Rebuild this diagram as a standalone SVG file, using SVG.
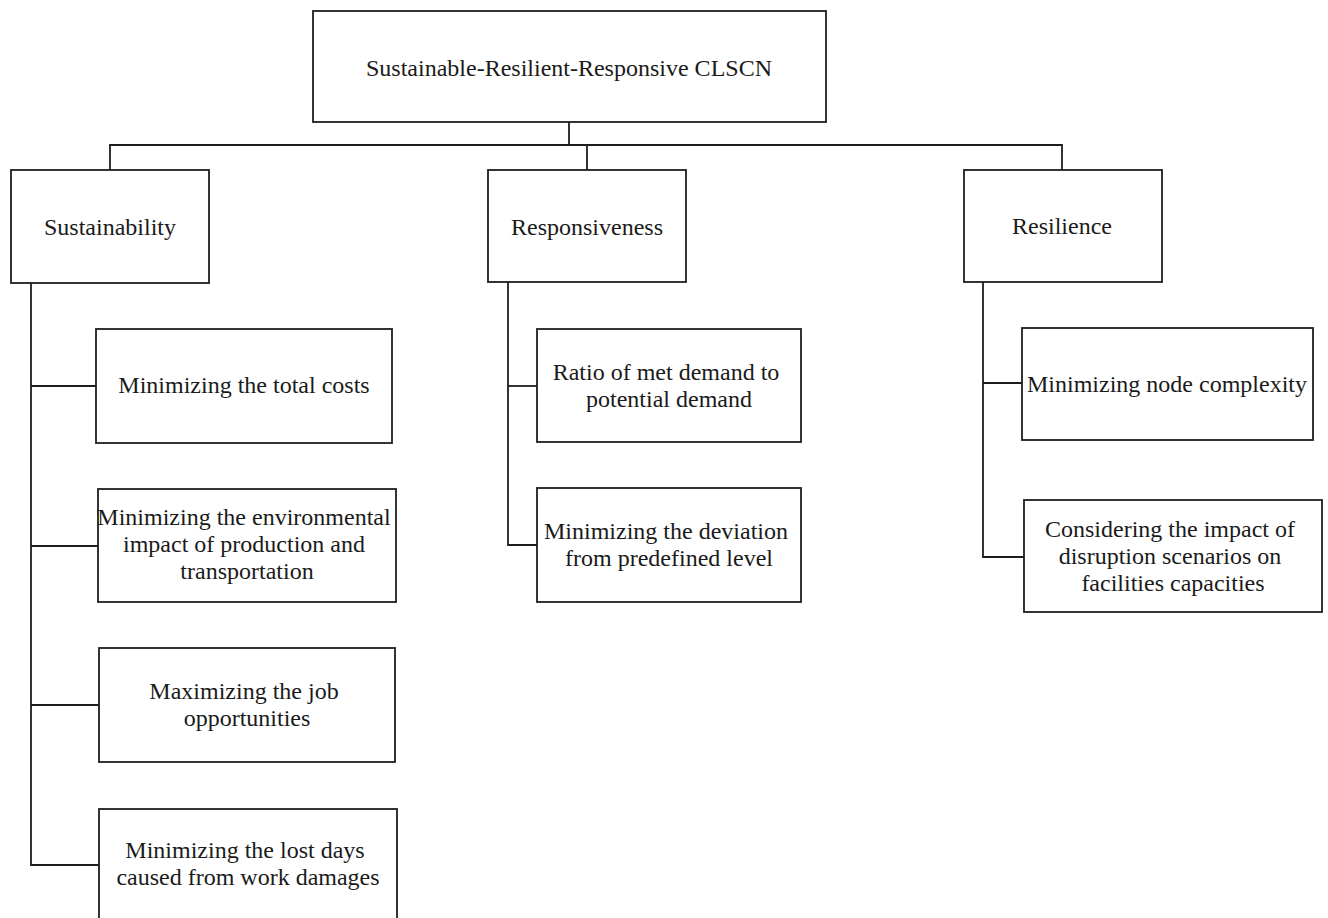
<svg xmlns="http://www.w3.org/2000/svg" width="1328" height="918" viewBox="0 0 1328 918">
  <style>
    .box { fill: #ffffff; stroke: #1e1e1e; stroke-width: 1.8; }
    .link { fill: none; stroke: #1e1e1e; stroke-width: 1.8; }
    .label { font-family: "Liberation Serif", "Times New Roman", serif; font-size: 24px; fill: #1a1a1a; text-anchor: middle; }
  </style>
  <rect width="1328" height="918" fill="#ffffff"/>

  <!-- connectors -->
  <g id="connectors">
    <!-- root to the three pillars -->
    <polyline class="link" points="569,122 569,145"/>
    <polyline class="link" points="110,170 110,145 1062,145 1062,170"/>
    <polyline class="link" points="587,145 587,170"/>
    <!-- Sustainability branch -->
    <polyline class="link" points="31,283 31,865 99,865"/>
    <line class="link" x1="31" y1="386" x2="96" y2="386"/>
    <line class="link" x1="31" y1="546" x2="98" y2="546"/>
    <line class="link" x1="31" y1="705" x2="99" y2="705"/>
    <!-- Responsiveness branch -->
    <polyline class="link" points="508,282 508,545 537,545"/>
    <line class="link" x1="508" y1="386" x2="537" y2="386"/>
    <!-- Resilience branch -->
    <polyline class="link" points="983,282 983,557 1024,557"/>
    <line class="link" x1="983" y1="383" x2="1022" y2="383"/>
  </g>

  <!-- root -->
  <g id="root">
    <rect class="box" x="313" y="11" width="513" height="111"/>
    <text class="label" x="569" y="76">Sustainable-Resilient-Responsive CLSCN</text>
  </g>

  <!-- pillars -->
  <g id="sustainability">
    <rect class="box" x="11" y="170" width="198" height="113"/>
    <text class="label" x="110" y="235">Sustainability</text>
  </g>
  <g id="responsiveness">
    <rect class="box" x="488" y="170" width="198" height="112"/>
    <text class="label" x="587" y="235">Responsiveness</text>
  </g>
  <g id="resilience">
    <rect class="box" x="964" y="170" width="198" height="112"/>
    <text class="label" x="1062" y="234">Resilience</text>
  </g>

  <!-- Sustainability objectives -->
  <g id="total-costs">
    <rect class="box" x="96" y="329" width="296" height="114"/>
    <text class="label" x="244" y="393">Minimizing the total costs</text>
  </g>
  <g id="environmental">
    <rect class="box" x="98" y="489" width="298" height="113"/>
    <text class="label" x="247" y="525">
      <tspan x="247" dy="0">Minimizing the environmental</tspan>
      <tspan x="247" dy="27">impact of production and</tspan>
      <tspan x="247" dy="27">transportation</tspan>
    </text>
  </g>
  <g id="job">
    <rect class="box" x="99" y="648" width="296" height="114"/>
    <text class="label" x="247" y="699">
      <tspan x="247" dy="0">Maximizing the job</tspan>
      <tspan x="247" dy="27">opportunities</tspan>
    </text>
  </g>
  <g id="lost-days">
    <rect class="box" x="99" y="809" width="298" height="130"/>
    <text class="label" x="248" y="858">
      <tspan x="248" dy="0">Minimizing the lost days</tspan>
      <tspan x="248" dy="27">caused from work damages</tspan>
    </text>
  </g>

  <!-- Responsiveness objectives -->
  <g id="met-demand">
    <rect class="box" x="537" y="329" width="264" height="113"/>
    <text class="label" x="669" y="380">
      <tspan x="669" dy="0">Ratio of met demand to</tspan>
      <tspan x="669" dy="27">potential demand</tspan>
    </text>
  </g>
  <g id="deviation">
    <rect class="box" x="537" y="488" width="264" height="114"/>
    <text class="label" x="669" y="539">
      <tspan x="669" dy="0">Minimizing the deviation</tspan>
      <tspan x="669" dy="27">from predefined level</tspan>
    </text>
  </g>

  <!-- Resilience objectives -->
  <g id="node-complexity">
    <rect class="box" x="1022" y="328" width="291" height="112"/>
    <text class="label" x="1167" y="392">Minimizing node complexity</text>
  </g>
  <g id="disruption">
    <rect class="box" x="1024" y="500" width="298" height="112"/>
    <text class="label" x="1173" y="537">
      <tspan x="1173" dy="0">Considering the impact of</tspan>
      <tspan x="1173" dy="27">disruption scenarios on</tspan>
      <tspan x="1173" dy="27">facilities capacities</tspan>
    </text>
  </g>
</svg>
